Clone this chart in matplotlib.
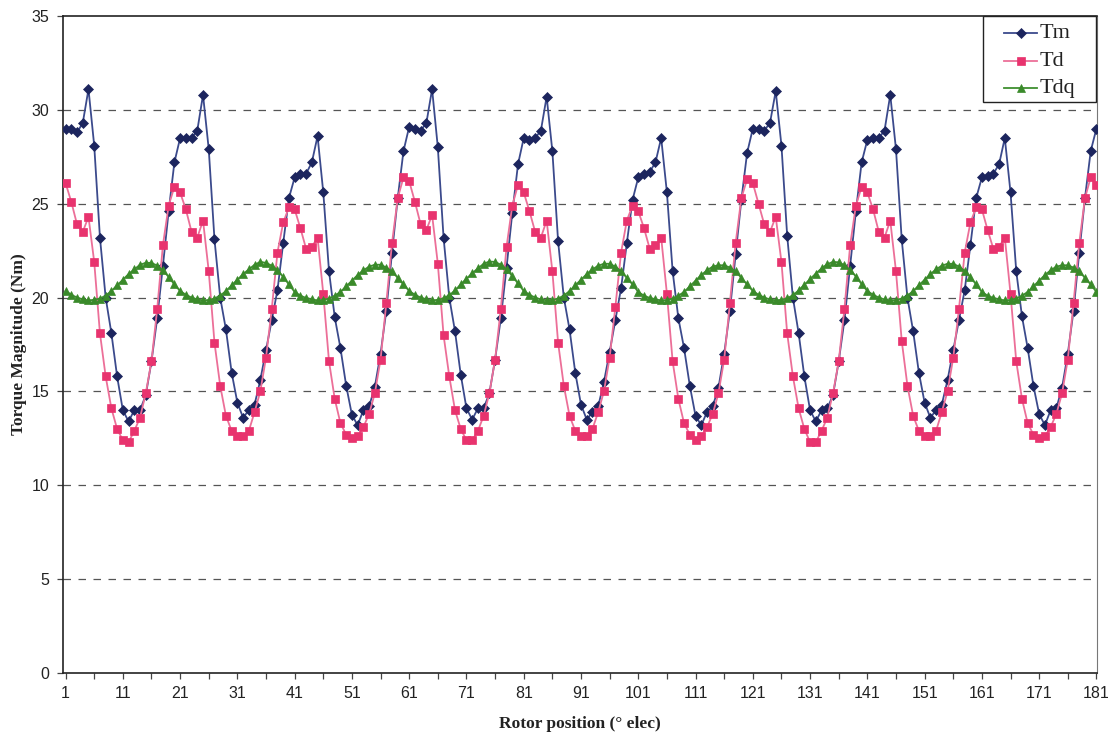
import numpy as np
import matplotlib
matplotlib.use("Agg")
import matplotlib.pyplot as plt
from matplotlib.ticker import FixedLocator
from matplotlib.lines import Line2D
from matplotlib.patches import Rectangle

# Rotor position (electrical degrees, sample index 1..181)
positions = list(range(1, 182))

# Measured torque magnitude Tm (Nm)
tm = [
    29.0, 29.0, 28.8, 29.3, 31.1, 28.1, 23.2, 20.0, 18.1, 15.8, 14.0, 13.4, 14.0, 14.0, 14.8, 16.6, 18.9, 21.7, 24.6, 27.2,
    28.5, 28.5, 28.5, 28.9, 30.8, 27.9, 23.1, 20.0, 18.3, 16.0, 14.4, 13.6, 14.0, 14.3, 15.6, 17.2, 18.8, 20.4, 22.9, 25.3,
    26.4, 26.6, 26.6, 27.2, 28.6, 25.6, 21.4, 18.95, 17.3, 15.3, 13.75, 13.2, 14.0, 14.2, 15.25, 17.0, 19.3, 22.4, 25.3, 27.8,
    29.1, 29.0, 28.9, 29.3, 31.1, 28.0, 23.2, 20.0, 18.2, 15.9, 14.1, 13.5, 14.1, 14.1, 14.9, 16.7, 18.9, 21.6, 24.5, 27.1,
    28.5, 28.4, 28.5, 28.9, 30.7, 27.8, 23.0, 20.0, 18.3, 16.0, 14.3, 13.5, 13.9, 14.2, 15.5, 17.1, 18.8, 20.5, 22.9, 25.2,
    26.4, 26.6, 26.7, 27.2, 28.5, 25.6, 21.4, 18.9, 17.3, 15.3, 13.7, 13.2, 13.9, 14.2, 15.2, 17.0, 19.3, 22.3, 25.2, 27.7,
    29.0, 29.0, 28.9, 29.3, 31.0, 28.1, 23.3, 20.0, 18.1, 15.8, 14.0, 13.4, 14.0, 14.1, 14.8, 16.6, 18.8, 21.7, 24.6, 27.2,
    28.4, 28.5, 28.5, 28.9, 30.8, 27.9, 23.1, 20.0, 18.2, 16.0, 14.4, 13.6, 14.0, 14.3, 15.6, 17.2, 18.8, 20.4, 22.8, 25.3,
    26.4, 26.5, 26.6, 27.1, 28.5, 25.6, 21.4, 19.0, 17.3, 15.3, 13.8, 13.2, 14.0, 14.1, 15.2, 17.0, 19.3, 22.4, 25.3, 27.8,
    29.0,
]

# d-axis torque Td (Nm)
td = [
    26.1, 25.1, 23.9, 23.5, 24.3, 21.9, 18.1, 15.8, 14.1, 13.0, 12.4, 12.3, 12.9, 13.6, 14.9, 16.6, 19.4, 22.8, 24.9, 25.9,
    25.6, 24.7, 23.5, 23.2, 24.1, 21.4, 17.6, 15.3, 13.7, 12.9, 12.6, 12.6, 12.9, 13.9, 15.0, 16.8, 19.4, 22.4, 24.0, 24.8,
    24.7, 23.7, 22.6, 22.7, 23.2, 20.2, 16.6, 14.6, 13.3, 12.7, 12.5, 12.6, 13.1, 13.8, 14.9, 16.7, 19.7, 22.9, 25.3, 26.4,
    26.2, 25.1, 23.9, 23.6, 24.4, 21.8, 18.0, 15.8, 14.0, 13.0, 12.4, 12.4, 12.9, 13.7, 14.9, 16.7, 19.4, 22.7, 24.9, 26.0,
    25.6, 24.6, 23.5, 23.2, 24.1, 21.4, 17.6, 15.3, 13.7, 12.9, 12.6, 12.6, 13.0, 13.9, 15.0, 16.8, 19.5, 22.4, 24.1, 24.9,
    24.6, 23.7, 22.6, 22.8, 23.2, 20.2, 16.6, 14.6, 13.3, 12.7, 12.4, 12.6, 13.1, 13.8, 14.9, 16.7, 19.7, 22.9, 25.3, 26.3,
    26.1, 25.0, 23.9, 23.5, 24.3, 21.9, 18.1, 15.8, 14.1, 13.0, 12.3, 12.3, 12.9, 13.6, 14.9, 16.6, 19.4, 22.8, 24.9, 25.9,
    25.6, 24.7, 23.5, 23.2, 24.1, 21.4, 17.7, 15.3, 13.7, 12.9, 12.6, 12.6, 12.9, 13.9, 15.0, 16.8, 19.4, 22.4, 24.0, 24.8,
    24.7, 23.6, 22.6, 22.7, 23.2, 20.2, 16.6, 14.6, 13.3, 12.7, 12.5, 12.6, 13.1, 13.8, 14.9, 16.7, 19.7, 22.9, 25.3, 26.4,
    26.0,
]

# dq-frame torque Tdq (Nm)
tdq = [
    20.35, 20.15, 20.0, 19.9, 19.85, 19.88, 19.95, 20.1, 20.35, 20.65, 20.95, 21.25, 21.5, 21.75, 21.85, 21.85, 21.7, 21.45, 21.1, 20.7,
    20.35, 20.15, 20.0, 19.9, 19.85, 19.87, 19.95, 20.1, 20.35, 20.65, 20.95, 21.25, 21.5, 21.75, 21.9, 21.85, 21.7, 21.45, 21.1, 20.7,
    20.3, 20.1, 19.98, 19.9, 19.85, 19.88, 19.95, 20.1, 20.3, 20.6, 20.9, 21.2, 21.45, 21.65, 21.75, 21.75, 21.6, 21.4, 21.05, 20.7,
    20.35, 20.15, 20.0, 19.9, 19.85, 19.88, 19.96, 20.12, 20.38, 20.7, 21.0, 21.3, 21.55, 21.8, 21.92, 21.9, 21.75, 21.5, 21.15, 20.75,
    20.35, 20.15, 20.0, 19.9, 19.86, 19.88, 19.95, 20.1, 20.35, 20.65, 20.95, 21.25, 21.5, 21.7, 21.8, 21.8, 21.65, 21.4, 21.05, 20.7,
    20.3, 20.1, 19.98, 19.9, 19.85, 19.87, 19.95, 20.1, 20.3, 20.6, 20.9, 21.2, 21.45, 21.65, 21.72, 21.72, 21.6, 21.4, 21.05, 20.7,
    20.35, 20.15, 20.0, 19.9, 19.85, 19.88, 19.96, 20.12, 20.38, 20.68, 20.98, 21.28, 21.55, 21.78, 21.9, 21.88, 21.72, 21.48, 21.12, 20.72,
    20.35, 20.15, 20.0, 19.9, 19.85, 19.87, 19.95, 20.1, 20.35, 20.65, 20.95, 21.25, 21.5, 21.7, 21.8, 21.8, 21.65, 21.42, 21.08, 20.7,
    20.3, 20.1, 19.98, 19.9, 19.85, 19.87, 19.95, 20.1, 20.3, 20.6, 20.9, 21.2, 21.45, 21.65, 21.72, 21.72, 21.6, 21.4, 21.05, 20.7,
    20.3,
]

series_names = ["Tm", "Td", "Tdq"]
x_tick_labels = [str(v) for v in range(1, 182, 10)]
y_ticks = [0, 5, 10, 15, 20, 25, 30, 35]

W, H = 1115, 736
fig = plt.figure(figsize=(W / 100, H / 100), dpi=100)
ax = fig.add_axes([63 / W, 1 - 673 / H, (1097 - 63) / W, (673 - 16) / H])

styles = [
    dict(color="#3b4a8c", mfc="#1c255e", mec="#1c255e", marker="D", ms=4.8),
    dict(color="#ec6f98", mfc="#e8336e", mec="#e8336e", marker="s", ms=5.6),
    dict(color="#3f9030", mfc="#3a8a2a", mec="#3a8a2a", marker="^", ms=5.2),
]
for name, vals, st in zip(series_names, [tm, td, tdq], styles):
    ax.plot(positions, vals, lw=1.3, mew=0.5, label=name, zorder=3, **st)

ax.set_xlim(0.55, 181.1)
ax.set_ylim(0, 35)

ax.yaxis.set_major_locator(FixedLocator(y_ticks))
ax.xaxis.set_major_locator(FixedLocator(list(range(1, 182, 10))))
ax.xaxis.set_minor_locator(FixedLocator(list(range(6, 182, 10))))
ax.set_xticklabels(x_tick_labels)

for y in y_ticks[1:-1]:
    ax.axhline(y, color="#555555", lw=0.9, ls=(0, (6, 6)), zorder=1)

for lbl in ax.get_xticklabels() + ax.get_yticklabels():
    lbl.set_fontfamily("Liberation Sans")
    lbl.set_fontsize(11.5)
    lbl.set_color("#222222")

ax.tick_params(axis="both", which="both", direction="out", length=4,
               width=0.9, color="#444444")
ax.tick_params(axis="x", pad=5)
ax.tick_params(axis="y", pad=6)

for side in ["left", "bottom", "top"]:
    ax.spines[side].set_color("#222222")
    ax.spines[side].set_linewidth(1.2)
ax.spines["right"].set_color("#777777")
ax.spines["right"].set_linewidth(0.8)

ax.set_xlabel("Rotor position (° elec)", fontfamily="Liberation Serif",
              fontweight="bold", fontsize=12.5, labelpad=11, color="#222222")
ax.set_ylabel("Torque Magnitude (Nm)", fontfamily="Liberation Serif",
              fontweight="bold", fontsize=12.5, labelpad=3, color="#222222")

# Legend box in the upper-right corner of the plot area, drawn in pixel space
def fx(px):
    return px / W

def fy(py):
    return 1 - py / H

fig.patches.append(Rectangle((fx(983), fy(102)), fx(1096) - fx(983), fy(16) - fy(102),
                             transform=fig.transFigure, facecolor="white",
                             edgecolor="#222222", lw=1.0, zorder=5))
for row, (name, st) in enumerate(zip(series_names, styles)):
    yc = 33 + row * 27.5
    fig.lines.append(Line2D([fx(1004), fx(1037)], [fy(yc), fy(yc)],
                            transform=fig.transFigure, lw=1.3, color=st["color"],
                            zorder=6))
    fig.lines.append(Line2D([fx(1020.5)], [fy(yc)], transform=fig.transFigure,
                            marker=st["marker"], ms=st["ms"], mfc=st["mfc"],
                            mec=st["mec"], mew=0.5, ls="none", zorder=7))
    fig.text(fx(1040), fy(yc + 1), name, fontfamily="Liberation Serif", fontsize=16,
             va="center", ha="left", color="#222222", zorder=8)

fig.savefig("out.png", dpi=100, facecolor="white")
